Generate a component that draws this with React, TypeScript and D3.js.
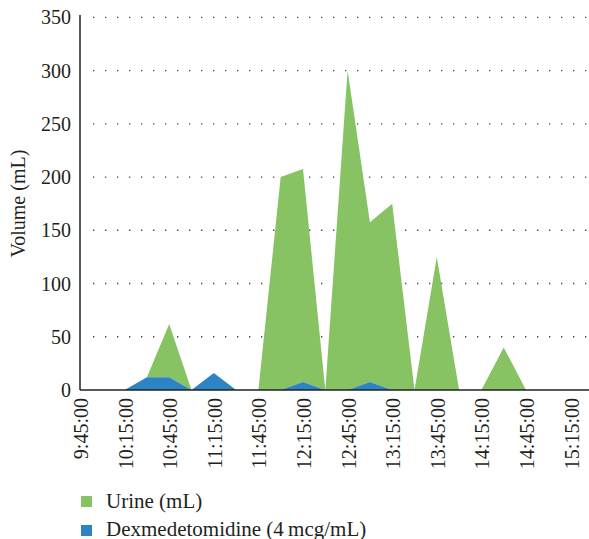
import React from "react";
import * as d3 from "d3";

const times = [
  "9:45:00", "10:00:00", "10:15:00", "10:30:00", "10:45:00", "11:00:00",
  "11:15:00", "11:30:00", "11:45:00", "12:00:00", "12:15:00", "12:30:00",
  "12:45:00", "13:00:00", "13:15:00", "13:30:00", "13:45:00", "14:00:00",
  "14:15:00", "14:30:00", "14:45:00", "15:00:00", "15:15:00", "15:30:00",
];
const urine = [0, 0, 0, 0, 50, 0, 0, 0, 0, 200, 200, 0, 300, 150, 175, 0, 125, 0, 0, 40, 0, 0, 0, 0];
const dex = [0, 0, 0, 12, 12, 0, 16, 0, 0, 0, 7.5, 0, 0, 7.5, 0, 0, 0, 0, 0, 0, 0, 0, 0, 0];
const yTicks = [0, 50, 100, 150, 200, 250, 300, 350];
const seriesNames = ["Dexmedetomidine (4\u2009mcg/mL)", "Urine (mL)"];
const colors = { urine: "#87C263", dex: "#2C84C5" };

const W = 589, H = 539;
const left = 80, top = 17.3, bottom = 390;
const FONT = "'Liberation Serif', 'Times New Roman', serif";

export default function App() {
  const x = d3.scalePoint<string>().domain(times).range([80, 80 + 22.3 * (times.length - 1)]);
  const y = d3.scaleLinear().domain([0, 350]).range([bottom, top]);

  const rows = times.map((t, i) => ({ t, dex: dex[i], urine: urine[i] }));
  const stacked = d3.stack<any>().keys(["dex", "urine"])(rows);
  const area = d3
    .area<any>()
    .x((d) => x(d.data.t) as number)
    .y0((d) => y(d[0]))
    .y1((d) => y(d[1]));

  const labelTicks = times.filter((_, i) => i % 2 === 0);

  return (
    <svg width={W} height={H} style={{ position: "absolute", left: 0, top: 0, background: "#fff" }} fontFamily={FONT}>
      {/* grid */}
      {yTicks.filter((v) => v > 0).map((v) => (
        <line key={v} x1={93} x2={W} y1={y(v)} y2={y(v)} stroke="#444" strokeWidth={1.3} strokeDasharray="1.3 10.7" />
      ))}
      {/* areas */}
      <path d={area(stacked[1] as any) || ""} fill={colors.urine} />
      <path d={area(stacked[0] as any) || ""} fill={colors.dex} />
      {/* axes */}
      <line x1={left} x2={left} y1={15} y2={bottom} stroke="#222" strokeWidth={1.5} />
      <line x1={left} x2={W} y1={bottom} y2={bottom} stroke="#222" strokeWidth={1.5} />
      {yTicks.map((v) => (
        <text key={v} x={71} y={y(v)} dy="0.35em" textAnchor="end" fontSize={20} fill="#231f20">
          {v}
        </text>
      ))}
      {labelTicks.map((t) => (
        <text
          key={t}
          transform={`translate(${(x(t) as number) + 1},${398}) rotate(-90)`}
          dy="0.35em"
          textAnchor="end"
          fontSize={20}
          fill="#231f20"
        >
          {t}
        </text>
      ))}
      <text transform={`translate(18,${(top + bottom) / 2}) rotate(-90)`} dy="0.35em" textAnchor="middle" fontSize={20} fill="#231f20">
        Volume (mL)
      </text>
      {/* legend */}
      <rect x={81} y={496} width={11} height={11} fill={colors.urine} />
      <text x={106} y={508} fontSize={21} fill="#231f20">{seriesNames[1]}</text>
      <rect x={81} y={525} width={11} height={11} fill={colors.dex} />
      <text x={106} y={535.5} fontSize={21} fill="#231f20">{seriesNames[0]}</text>
    </svg>
  );
}
